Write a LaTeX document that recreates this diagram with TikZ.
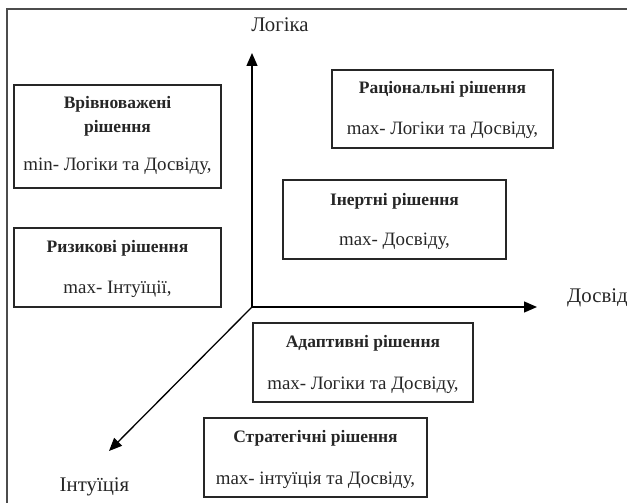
\documentclass[tikz,border=0pt]{standalone}
\usepackage{fontspec}
\setmainfont{Liberation Serif}
\usetikzlibrary{arrows.meta}
\begin{document}
\begin{tikzpicture}[x=1pt,y=-1pt,
  box/.style={draw=black!85, line width=1.2pt, rectangle, inner sep=0pt},
  ttl/.style={anchor=base, inner sep=0pt, font=\fontsize{17.5}{21}\selectfont\bfseries, text=black!85},
  sub/.style={anchor=base, inner sep=0pt, font=\fontsize{18.9}{22}\selectfont, text=black!85},
  axlab/.style={inner sep=0pt, font=\fontsize{20.8}{25}\selectfont, text=black!85},
  axis/.style={line width=1.3pt, draw=black, -{Triangle[length=13pt,width=11pt]}}]
\useasboundingbox (0,0) rectangle (627,503);
% frame (cropped)
\coordinate (f1) at (7,503);
\coordinate (f2) at (7,9);
\coordinate (f3) at (627,9);
\draw[line width=1.3pt, black!70] (f1) -- (f2) -- (f3);
% axes
\coordinate (O) at (252,307);
\coordinate (L) at (252,53);
\coordinate (D) at (537,307);
\coordinate (I) at (109,451);
\draw[axis] (O) -- (L);
\draw[axis] (O) -- (D);
\draw[axis] (O) -- (I);
\node[axlab, anchor=base] (lL) at (280,32) {Логіка};
\node[axlab, anchor=base west] (lD) at (567,302) {Досвід};
\node[axlab, anchor=base] (lI) at (94.5,491) {Інтуїція};
% boxes
\node[box, minimum width=207pt, minimum height=103pt] (b1) at (117.5,136.5) {};
\node[ttl] (t1a) at (117.5,108) {Врівноважені};
\node[ttl] (t1b) at (117.5,132) {рішення};
\node[sub] (s1) at (117.5,170) {min- Логіки та Досвіду,};

\node[box, minimum width=207pt, minimum height=79pt] (b2) at (117.5,267.5) {};
\node[ttl] (t2) at (117.5,252) {Ризикові рішення};
\node[sub] (s2) at (117.5,293) {max- Інтуїції,};

\node[box, minimum width=221pt, minimum height=78pt] (b3) at (442.5,109) {};
\node[ttl] (t3) at (442.5,93) {Раціональні рішення};
\node[sub] (s3) at (442.5,134) {max- Логіки та Досвіду,};

\node[box, minimum width=223pt, minimum height=79pt] (b4) at (394.5,219.5) {};
\node[ttl] (t4) at (394.5,205) {Інертні рішення};
\node[sub] (s4) at (394.5,245) {max- Досвіду,};

\node[box, minimum width=220pt, minimum height=79pt] (b5) at (363,362.5) {};
\node[ttl] (t5) at (363,347) {Адаптивні рішення};
\node[sub] (s5) at (363,389) {max- Логіки та Досвіду,};

\node[box, minimum width=223pt, minimum height=79pt] (b6) at (315.5,457.5) {};
\node[ttl] (t6) at (315.5,442) {Стратегічні рішення};
\node[sub] (s6) at (315.5,484) {max- інтуїція та Досвіду,};
\end{tikzpicture}
\end{document}
